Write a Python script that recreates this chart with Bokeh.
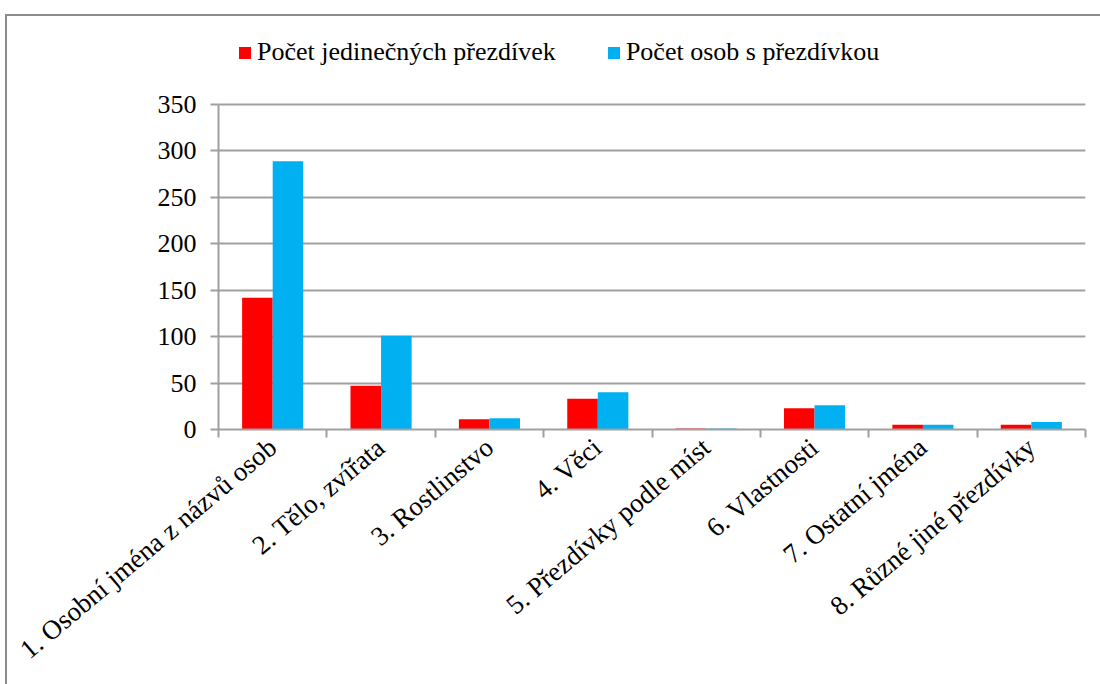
from bokeh.plotting import figure
from bokeh.layouts import column, row
from bokeh.models import (ColumnDataSource, FactorRange, Range1d, LinearAxis,
                          FixedTicker, Legend, LegendItem, Spacer)
from bokeh.transform import dodge
from bokeh.embed import file_html
from bokeh.resources import INLINE

categories = ["1. Osobní jména z názvů osob", "2. Tělo, zvířata", "3. Rostlinstvo",
              "4. Věci", "5. Přezdívky podle míst", "6. Vlastnosti",
              "7. Ostatní jména", "8. Různé jiné přezdívky"]
unique_nicknames = [142, 47, 11, 33, 1, 23, 5, 5]
persons_with_nickname = [289, 101, 12, 40, 1, 26, 5, 8]
series_names = ["Počet jedinečných přezdívek", "Počet osob s přezdívkou"]
y_ticks = [0, 50, 100, 150, 200, 250, 300, 350]

FONT = "Liberation Serif"
GRID = "#a0a0a0"

# layout (pixels inside the bordered chart box)
W, H = 1095, 670
LEFT, RIGHT, TOP, BOTTOM = 211, 17, 4, 257
Y_TOP_PX = 88            # pixel row of the 350 gridline
frame_h = H - TOP - BOTTOM
y_max = y_ticks[-1]
y_end = y_max * frame_h / (H - BOTTOM - Y_TOP_PX)

src = ColumnDataSource(dict(cat=categories, a=unique_nicknames, b=persons_with_nickname))

p = figure(width=W, height=H, output_backend="svg", toolbar_location=None,
           x_range=FactorRange(*categories, range_padding=0),
           y_range=Range1d(0, y_end), x_axis_location=None,
           min_border_left=LEFT, min_border_right=RIGHT, min_border_top=TOP,
           min_border_bottom=BOTTOM)
p.outline_line_color = None
p.styles = {"border-left": "2px solid #8c8c8c", "border-top": "2px solid #8c8c8c",
            "box-sizing": "border-box"}

r1 = p.vbar(x=dodge("cat", -0.141, range=p.x_range), top="a", width=0.282,
            source=src, fill_color="#ff0000", line_color=None)
r2 = p.vbar(x=dodge("cat", 0.141, range=p.x_range), top="b", width=0.282,
            source=src, fill_color="#00b0f0", line_color=None)

# y axis
yax = p.yaxis[0]
yax.ticker = FixedTicker(ticks=y_ticks)
yax.bounds = (0, y_max)
yax.axis_line_color = GRID
yax.axis_line_width = 2
yax.major_tick_line_color = GRID
yax.major_tick_line_width = 2
yax.major_tick_out = 8
yax.major_tick_in = 0
yax.minor_tick_line_color = None
yax.major_label_text_font = FONT
yax.major_label_text_font_size = "26px"
yax.major_label_text_color = "black"
yax.major_label_standoff = 14

p.ygrid.ticker = FixedTicker(ticks=y_ticks)
p.ygrid.grid_line_color = GRID
p.ygrid.grid_line_width = 2
p.xgrid.grid_line_color = None

# x axis on the factor range's synthetic coordinates:
# labels at category centres, tick marks at category boundaries
n = len(categories)
centres = [i + 0.5 for i in range(n)]
bounds = list(range(n + 1))
xax = LinearAxis(ticker=FixedTicker(ticks=centres, minor_ticks=bounds))
xax.major_label_overrides = {c: name for c, name in zip(centres, categories)}
xax.axis_line_color = GRID
xax.axis_line_width = 2
xax.major_tick_line_color = None
xax.major_tick_out = 0
xax.major_tick_in = 0
xax.minor_tick_line_color = GRID
xax.minor_tick_line_width = 2
xax.minor_tick_out = 8
xax.minor_tick_in = 0
xax.major_label_orientation = 0.70
xax.major_label_text_font = FONT
xax.major_label_text_font_size = "27px"
xax.major_label_text_color = "black"
xax.major_label_standoff = 6
p.add_layout(xax, "below")

legend = Legend(items=[LegendItem(label=series_names[0], renderers=[r1]),
                       LegendItem(label=series_names[1], renderers=[r2])],
                orientation="horizontal", location=(19, 362),
                label_text_font=FONT, label_text_font_size="26px",
                label_text_color="black", glyph_width=15, glyph_height=15,
                label_standoff=5, spacing=50, padding=0, margin=0,
                label_height=26, border_line_color=None,
                background_fill_alpha=0)
p.add_layout(legend, "center")

layout = column(Spacer(height=14), row(Spacer(width=5), p))
open("out.html", "w").write(file_html(layout, INLINE))
